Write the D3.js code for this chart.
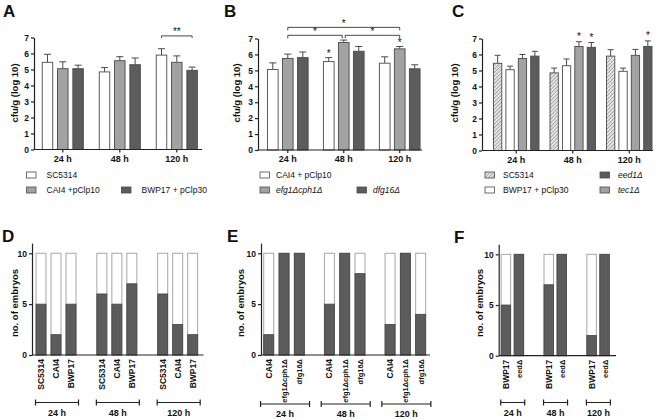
<!DOCTYPE html>
<html><head><meta charset="utf-8">
<script src="https://cdn.jsdelivr.net/npm/d3@7"></script>
<style>
body{margin:0;background:#fff}
svg{display:block}
text{font-family:"Liberation Sans",Arial,Helvetica,sans-serif;fill:#111}
</style>
</head><body>
<svg id="c" width="661" height="419"></svg>
<script>
// ---------------- DATA ----------------
const times = ["24 h", "48 h", "120 h"];
const yTicksTop = [0, 1, 2, 3, 4, 5, 6, 7];
const yTicksBottom = [0, 5, 10];

// Panel A (cfu/g, log10)
const seriesA = ["SC5314", "CAI4 +pClp10", "BWP17 + pClp30"];
const meanA_SC5314 = [5.45, 4.85, 5.9];
const errA_SC5314  = [0.5, 0.27, 0.4];
const meanA_CAI4   = [5.05, 5.55, 5.45];
const errA_CAI4    = [0.43, 0.25, 0.4];
const meanA_BWP17  = [5.05, 5.3, 4.95];
const errA_BWP17   = [0.22, 0.42, 0.2];

// Panel B
const seriesB = ["CAI4 + pClp10", "efg1Δcph1Δ", "dfg16Δ"];
const meanB_CAI4  = [5.05, 5.55, 5.45];
const errB_CAI4   = [0.42, 0.25, 0.4];
const meanB_efg1  = [5.75, 6.75, 6.35];
const errB_efg1   = [0.27, 0.15, 0.15];
const meanB_dfg16 = [5.8, 6.2, 5.1];
const errB_dfg16  = [0.35, 0.3, 0.25];

// Panel C
const seriesC = ["SC5314", "BWP17 + pClp30", "tec1Δ", "eed1Δ"];
const meanC_SC5314 = [5.45, 4.85, 5.9];
const errC_SC5314  = [0.5, 0.3, 0.4];
const meanC_BWP17  = [5.05, 5.3, 4.95];
const errC_BWP17   = [0.22, 0.42, 0.2];
const meanC_tec1   = [5.75, 6.5, 5.95];
const errC_tec1    = [0.25, 0.3, 0.37];
const meanC_eed1   = [5.9, 6.45, 6.5];
const errC_eed1    = [0.3, 0.3, 0.35];

// Panels D-F (no. of embryos, dark = count, total 10)
const embryoTotal = 10;
const seriesD = ["SC5314", "CAI4", "BWP17"];
const countD_SC5314 = [5, 6, 6];
const countD_CAI4   = [2, 5, 3];
const countD_BWP17  = [5, 7, 2];

const seriesE = ["CAI4", "efg1Δcph1Δ", "dfg16Δ"];
const countE_CAI4  = [2, 5, 3];
const countE_efg1  = [10, 10, 10];
const countE_dfg16 = [10, 8, 4];

const seriesF = ["BWP17", "eedΔ"];
const countF_BWP17 = [5, 7, 2];
const countF_eed   = [10, 10, 10];

// ---------------- STYLE ----------------
const C_WHITE = "#ffffff", C_GRAY = "#a2a2a2", C_DARK = "#5c5c5c", C_HATCH = "url(#hatch)";
const STROKE = "#4a4a4a";
const svg = d3.select("#c");

const defs = svg.append("defs");
const pat = defs.append("pattern").attr("id", "hatch").attr("width", 2.6).attr("height", 2.6)
  .attr("patternUnits", "userSpaceOnUse").attr("patternTransform", "rotate(45)");
pat.append("rect").attr("width", 2.6).attr("height", 2.6).attr("fill", "#e6e6e6");
pat.append("line").attr("x1", 0).attr("y1", 0).attr("x2", 0).attr("y2", 2.6)
  .attr("stroke", "#7a7a7a").attr("stroke-width", 1.1);

function panelLabel(t, x, y) {
  svg.append("text").attr("x", x).attr("y", y).attr("font-size", 17).attr("font-weight", "bold").text(t);
}

function yTitle(t, x, y) {
  svg.append("text").attr("transform", `translate(${x},${y}) rotate(-90)`)
    .attr("text-anchor", "middle").attr("font-size", 9.5).attr("font-weight", "bold").text(t);
}

function styleAxis(g) {
  g.selectAll("path,line").attr("stroke", "#222").attr("stroke-width", 1.2);
  g.selectAll("text").attr("font-size", 8.5).attr("font-weight", "bold").attr("font-family", "Liberation Sans, Arial, sans-serif").attr("fill", "#111");
}

// ---------------- TOP PANELS ----------------
function topPanel(o) {
  const y = d3.scaleLinear([0, 7], [o.y0, o.y7]);
  const x0 = d3.scaleBand(times, o.groupRange);
  const x1 = d3.scaleBand(o.series.map(s => s.name), [0, o.innerW]).paddingInner(o.pad);
  const bx = (t, n) => x0(t) + x0.bandwidth() / 2 - o.innerW / 2 + x1(n);
  const cx = (t, n) => bx(t, n) + x1.bandwidth() / 2;

  const g = svg.append("g");
  o.series.forEach(s => {
    times.forEach((t, i) => {
      const m = s.means[i], e = s.errs[i];
      const xc = cx(t, s.name);
      g.append("line").attr("x1", xc).attr("x2", xc).attr("y1", y(m)).attr("y2", y(m + e))
        .attr("stroke", STROKE).attr("stroke-width", 1);
      g.append("line").attr("x1", xc - o.cap / 2).attr("x2", xc + o.cap / 2).attr("y1", y(m + e)).attr("y2", y(m + e))
        .attr("stroke", STROKE).attr("stroke-width", 1);
      g.append("rect").attr("x", bx(t, s.name)).attr("y", y(m)).attr("width", x1.bandwidth())
        .attr("height", y(0) - y(m)).attr("fill", s.fill).attr("stroke", STROKE).attr("stroke-width", 0.9);
    });
  });

  // axes
  const ya = svg.append("g").attr("transform", `translate(${o.axisX},0)`)
    .call(d3.axisLeft(y).tickValues(yTicksTop).tickFormat(d3.format("d")).tickSize(3).tickSizeOuter(0).tickPadding(2));
  styleAxis(ya);
  const xa = svg.append("g").attr("transform", `translate(0,${y(0)})`)
    .call(d3.axisBottom(x0).tickSize(3).tickPadding(3));
  xa.select(".domain").remove();
  styleAxis(xa);
  xa.selectAll("text").attr("font-size", 9);
  svg.append("line").attr("x1", o.axisX).attr("x2", o.xEnd).attr("y1", y(0)).attr("y2", y(0))
    .attr("stroke", "#222").attr("stroke-width", 1.2);

  // legend
  o.legend.forEach(L => {
    svg.append("rect").attr("x", L.x).attr("y", L.y - 3).attr("width", 9.5).attr("height", 6)
      .attr("fill", L.fill).attr("stroke", STROKE).attr("stroke-width", 0.8);
    svg.append("text").attr("x", L.x + o.legendGap).attr("y", L.y + 3).attr("font-size", 8.5)
      .attr("font-style", L.italic ? "italic" : "normal").text(L.name);
  });

  return {y, cx};
}

function bracket(x1, x2, yy, label, tick) {
  svg.append("path").attr("d", `M${x1},${yy + tick}V${yy}H${x2}V${yy + tick}`)
    .attr("fill", "none").attr("stroke", "#333").attr("stroke-width", 0.9);
  if (label) svg.append("text").attr("x", (x1 + x2) / 2).attr("y", yy - 0.5)
    .attr("text-anchor", "middle").attr("font-size", 10).text(label);
}
function star(x, yy) {
  svg.append("text").attr("x", x).attr("y", yy).attr("text-anchor", "middle").attr("font-size", 10).text("*");
}

// Panel A
panelLabel("A", 3, 17);
yTitle("cfu/g (log 10)", 18, 93);
const A = topPanel({
  series: [
    {name: seriesA[0], means: meanA_SC5314, errs: errA_SC5314, fill: C_WHITE},
    {name: seriesA[1], means: meanA_CAI4, errs: errA_CAI4, fill: C_GRAY},
    {name: seriesA[2], means: meanA_BWP17, errs: errA_BWP17, fill: C_DARK}],
  y0: 149.5, y7: 37.5, axisX: 34, xEnd: 202, groupRange: [34.3, 205.3], innerW: 41.1, pad: 0.314, cap: 7,
  legendGap: 20,
  legend: [
    {name: seriesA[0], fill: C_WHITE, x: 26.5, y: 175},
    {name: seriesA[1], fill: C_GRAY, x: 26.5, y: 190},
    {name: seriesA[2], fill: C_DARK, x: 121.5, y: 190}]
});
bracket(A.cx("120 h", seriesA[0]), A.cx("120 h", seriesA[2]), A.y(7.1), "**", 2);

// Panel B
panelLabel("B", 224, 17);
yTitle("cfu/g (log 10)", 240, 93);
const B = topPanel({
  series: [
    {name: seriesB[0], means: meanB_CAI4, errs: errB_CAI4, fill: C_WHITE},
    {name: seriesB[1], means: meanB_efg1, errs: errB_efg1, fill: C_GRAY},
    {name: seriesB[2], means: meanB_dfg16, errs: errB_dfg16, fill: C_DARK}],
  y0: 150, y7: 38.5, axisX: 258, xEnd: 422, groupRange: [259.8, 427.7], innerW: 40.7, pad: 0.287, cap: 7,
  legendGap: 16,
  legend: [
    {name: seriesB[0], fill: C_WHITE, x: 260, y: 175},
    {name: seriesB[1], fill: C_GRAY, x: 260, y: 190, italic: true},
    {name: seriesB[2], fill: C_DARK, x: 357, y: 190, italic: true}]
});
{
  const e24 = B.cx("24 h", seriesB[1]), e48 = B.cx("48 h", seriesB[1]), e120 = B.cx("120 h", seriesB[1]);
  bracket(e24, e120, B.y(7.7), "*", 3);
  bracket(e24, e48 - 1.5, B.y(7.2), "*", 3);
  bracket(e48 + 1.5, e120, B.y(7.2), "*", 3);
  star(B.cx("48 h", seriesB[0]), B.y(meanB_CAI4[1] + errB_CAI4[1]) - 0.5);
  star(B.cx("120 h", seriesB[1]), B.y(meanB_efg1[2] + errB_efg1[2]) - 0.5);
}

// Panel C
panelLabel("C", 452, 17);
yTitle("cfu/g (log 10)", 458, 93);
const Cp = topPanel({
  series: [
    {name: seriesC[0], means: meanC_SC5314, errs: errC_SC5314, fill: C_HATCH},
    {name: seriesC[1], means: meanC_BWP17, errs: errC_BWP17, fill: C_WHITE},
    {name: seriesC[2], means: meanC_tec1, errs: errC_tec1, fill: C_GRAY},
    {name: seriesC[3], means: meanC_eed1, errs: errC_eed1, fill: C_DARK}],
  y0: 150.5, y7: 38.5, axisX: 482, xEnd: 653, groupRange: [488, 657.5], innerW: 45.5, pad: 0.33, cap: 6,
  legendGap: 18,
  legend: [
    {name: seriesC[0], fill: C_HATCH, x: 485, y: 175},
    {name: seriesC[1], fill: C_WHITE, x: 485, y: 190},
    {name: seriesC[3], fill: C_DARK, x: 600, y: 175, italic: true},
    {name: seriesC[2], fill: C_GRAY, x: 600, y: 190, italic: true}]
});
star(Cp.cx("48 h", seriesC[2]), Cp.y(meanC_tec1[1] + errC_tec1[1]) - 1.5);
star(Cp.cx("48 h", seriesC[3]), Cp.y(meanC_eed1[1] + errC_eed1[1]) - 1.5);
star(Cp.cx("120 h", seriesC[3]), Cp.y(meanC_eed1[2] + errC_eed1[2]) - 1.5);

// ---------------- BOTTOM PANELS ----------------
function stackPanel(o) {
  const y = d3.scaleLinear([0, 11], [o.y0, o.yTop]);
  const x0 = d3.scaleBand(times, o.groupRange);
  const x1 = d3.scaleBand(o.series.map(s => s.name), [0, o.innerW]).paddingInner(o.pad);
  const bx = (t, n) => x0(t) + x0.bandwidth() / 2 - o.innerW / 2 + x1(n);
  const g = svg.append("g");
  o.series.forEach(s => {
    times.forEach((t, i) => {
      const v = s.counts[i];
      const x = bx(t, s.name), w = x1.bandwidth();
      g.append("rect").attr("x", x).attr("y", y(embryoTotal)).attr("width", w)
        .attr("height", y(0) - y(embryoTotal)).attr("fill", "#fff").attr("stroke", "#a6a6a6").attr("stroke-width", 1);
      g.append("rect").attr("x", x).attr("y", y(v)).attr("width", w)
        .attr("height", y(0) - y(v)).attr("fill", C_DARK).attr("stroke", "#444").attr("stroke-width", 0.8);
      svg.append("text").attr("transform", `translate(${x + w / 2 + 3},${y(0) + 4}) rotate(-90)`)
        .attr("text-anchor", "end").attr("font-size", s.fs || 8.5).attr("font-weight", "bold").text(s.name);
    });
  });
  const ya = svg.append("g").attr("transform", `translate(${o.axisX},0)`)
    .call(d3.axisLeft(y).tickValues(yTicksBottom).tickFormat(d3.format("d")).tickSize(3).tickSizeOuter(0).tickPadding(2));
  styleAxis(ya);
  svg.append("line").attr("x1", o.axisX).attr("x2", o.xEnd).attr("y1", y(0)).attr("y2", y(0))
    .attr("stroke", "#222").attr("stroke-width", 1.2);
  // time brackets
  times.forEach(t => {
    const c = x0(t) + x0.bandwidth() / 2 + o.bShift;
    svg.append("path").attr("d", `M${c - o.bHalf},${o.bY - 3}V${o.bY + 3}M${c - o.bHalf},${o.bY}H${c + o.bHalf}M${c + o.bHalf},${o.bY - 3}V${o.bY + 3}`)
      .attr("stroke", "#222").attr("stroke-width", 1.2).attr("fill", "none");
    svg.append("text").attr("x", c).attr("y", o.bY + 13).attr("text-anchor", "middle")
      .attr("font-size", 9).attr("font-weight", "bold").text(t);
  });
}

panelLabel("D", 2, 242);
yTitle("no. of embryos", 18, 303);
stackPanel({
  series: [
    {name: seriesD[0], counts: countD_SC5314},
    {name: seriesD[1], counts: countD_CAI4},
    {name: seriesD[2], counts: countD_BWP17}],
  y0: 355, yTop: 243.1, axisX: 32, xEnd: 203.5, groupRange: [25.6, 208.1], innerW: 40, pad: 0.333,
  bY: 402.5, bHalf: 21.5, bShift: 1
});

panelLabel("E", 227, 242);
yTitle("no. of embryos", 244, 303);
stackPanel({
  series: [
    {name: seriesE[0], counts: countE_CAI4},
    {name: seriesE[1], counts: countE_efg1, fs: 7.5},
    {name: seriesE[2], counts: countE_dfg16, fs: 7.5}],
  y0: 355, yTop: 243.1, axisX: 261, xEnd: 430, groupRange: [253.7, 435.7], innerW: 40.6, pad: 0.346,
  bY: 404, bHalf: 24.5, bShift: 1
});

panelLabel("F", 454, 243);
yTitle("no. of embryos", 483, 303);
stackPanel({
  series: [
    {name: seriesF[0], counts: countF_BWP17},
    {name: seriesF[1], counts: countF_eed, fs: 7.5}],
  y0: 355.7, yTop: 244.2, axisX: 498.7, xEnd: 616, groupRange: [491, 619.5], innerW: 22.5, pad: 0.27,
  bY: 402.5, bHalf: 12, bShift: 0.3
});
</script>
</body></html>
